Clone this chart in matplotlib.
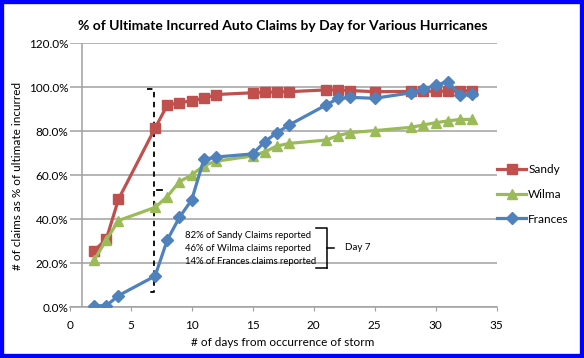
import matplotlib
matplotlib.use("Agg")
from matplotlib import pyplot as plt
from matplotlib.patches import Rectangle
from matplotlib.ticker import PercentFormatter

plt.rcParams['font.family'] = ['Lato', 'DejaVu Sans']

days = [2, 3, 4, 7, 8, 9, 10, 11, 12, 15, 16, 17, 18, 21, 22, 23, 25, 28, 29, 30, 31, 32, 33]
sandy = [25.8, 31.0, 49.2, 81.5, 92.0, 93.0, 94.0, 95.0, 96.8, 97.6, 97.8, 98.0, 98.1,
         98.9, 98.9, 98.6, 98.1, 98.2, 98.3, 98.3, 98.3, 98.4, 98.5]
wilma = [21.5, 30.7, 39.5, 45.5, 50.4, 57.2, 60.2, 64.5, 66.5, 68.9, 70.8, 73.4, 74.6,
         76.1, 78.1, 79.5, 80.4, 81.9, 83.0, 84.0, 84.8, 85.5, 85.5]
frances = [0.8, 0.8, 5.4, 14.3, 30.7, 41.0, 48.9, 67.3, 68.4, 69.8, 75.4, 79.5, 83.0,
           92.0, 95.0, 95.5, 95.1, 97.6, 99.2, 101.1, 102.6, 96.6, 97.0]

series = [("Sandy", sandy, "#C0504D", "s"),
          ("Wilma", wilma, "#9BBB59", "^"),
          ("Frances", frances, "#4F81BD", "D")]

note_lines = ["82% of Sandy Claims reported",
              "46% of Wilma claims reported",
              "14% of Frances claims reported"]

fig = plt.figure(figsize=(5.84, 3.58), dpi=100)
ax = fig.add_axes([0.1193, 0.1411, 0.7312, 0.7374])

for name, vals, col, mk in series:
    ms = 6.5 if mk == "D" else 7.5
    ax.plot(days, [v / 100 for v in vals], color=col, lw=2.3, marker=mk,
            markersize=ms, label=name, zorder=3)

ax.set_xlim(0, 35)
ax.set_ylim(0, 1.2)
ax.set_xticks(range(0, 36, 5))
ax.set_yticks([i / 10 for i in range(0, 13, 2)])
ax.yaxis.set_major_formatter(PercentFormatter(1.0, decimals=1))
ax.grid(axis='y', color='#A0A0A0', lw=1.1)
ax.set_axisbelow(True)
for s in ['top', 'right', 'left']:
    ax.spines[s].set_visible(False)
ax.spines['bottom'].set_color('#A0A0A0')
ax.spines['bottom'].set_linewidth(1.1)
ax.axvline(1, color='#A0A0A0', lw=1.1, zorder=1)
ax.tick_params(axis='x', length=3, color='#A0A0A0', labelsize=8.5, pad=6)
ax.tick_params(axis='y', length=0, labelsize=8.5, pad=1)

ax.set_title("% of Ultimate Incurred Auto Claims by Day for Various Hurricanes",
             fontsize=10, fontweight='bold', pad=10)
ax.set_xlabel("# of days from occurrence of storm", fontsize=8.5, labelpad=4)
ax.set_ylabel("# of claims as % of ultimate incurred", fontsize=8.5, labelpad=4)

# dashed brace at day 7
ax.plot([6.3, 6.95, 6.95], [0.995, 0.995, 0.545], color='black', ls='--', lw=1.3, dashes=(3, 2.5))
ax.plot([7.15, 7.6], [0.536, 0.536], color='black', ls='-', lw=1.3)
ax.plot([6.95, 6.95, 6.3], [0.53, 0.072, 0.072], color='black', ls='--', lw=1.3, dashes=(3, 2.5))

# note with solid brace
for i, t in enumerate(note_lines):
    ax.text(9.45, 0.325 - i * 0.059, t, fontsize=6.8, va='center', ha='left')
ax.plot([20.2, 21.1, 21.1], [0.36, 0.36, 0.178], color='black', lw=1.1)
ax.plot([20.2, 21.1], [0.178, 0.178], color='black', lw=1.1)
ax.plot([21.1, 21.7], [0.27, 0.27], color='black', lw=1.1)
ax.text(22.6, 0.272, "Day 7", fontsize=7, va='center', ha='left')

fig.legend(loc='center left', bbox_to_anchor=(0.851, 0.4567), frameon=False,
           fontsize=8.5, handlelength=2.5, handletextpad=0.15, labelspacing=1.15,
           borderpad=0, borderaxespad=0)

fig.patches.append(Rectangle((0, 0), 1, 1, transform=fig.transFigure, fill=False,
                             edgecolor='#0000FF', lw=6))

fig.savefig("out.png", dpi=100)
